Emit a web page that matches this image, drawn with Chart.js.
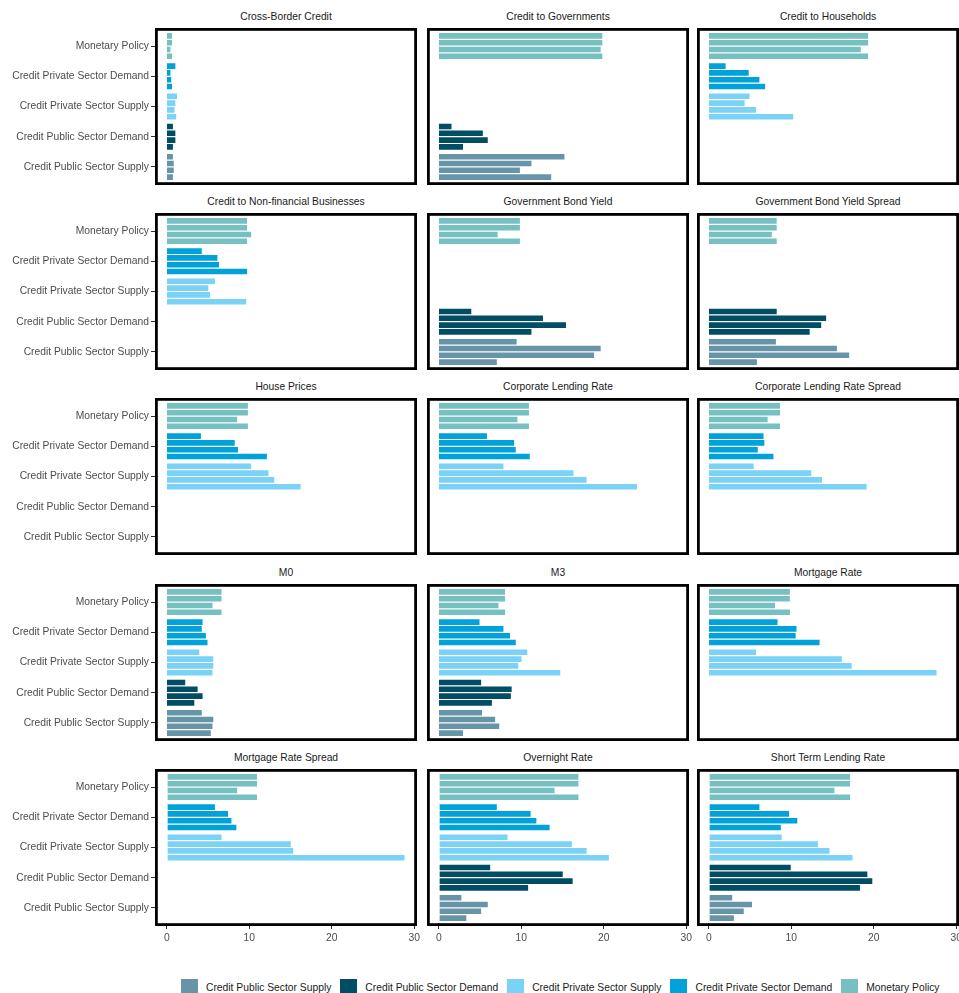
<!DOCTYPE html>
<html>
<head>
<meta charset="utf-8">
<script src="https://cdn.jsdelivr.net/npm/chart.js@4.4.1/dist/chart.umd.min.js"></script>
<style>
body { margin: 0; background: #fff; font-family: "Liberation Sans", Arial, sans-serif; }
#wrap { position: relative; width: 959px; height: 993px; overflow: hidden; }
canvas { position: absolute; }
.title { position: absolute; font-size: 10.3px; color: #1a1a1a; text-align: center; white-space: nowrap; }
#legend { position: absolute; left: 180px; top: 978px; display: flex; font-size: 10.3px; color: #1a1a1a; white-space: nowrap; }
#legend .item { display: flex; align-items: center; margin-right: 8px; flex-shrink: 0; }
#legend .key { width: 19px; height: 19px; box-sizing: border-box; border: 1px solid #fff; margin-right: 7px; }
</style>
</head>
<body>
<div id="wrap"></div>
<script>
// categories top to bottom, colours per category
const categories = ["Monetary Policy", "Credit Private Sector Demand", "Credit Private Sector Supply", "Credit Public Sector Demand", "Credit Public Sector Supply"];
const colours = ["#76c0c1", "#00a2d9", "#7ad2f6", "#014d64", "#6794a7"];
const legendOrder = [4, 3, 2, 1, 0];
const xTicks = [0, 10, 20, 30];

// one row per category, 4 bars each (top to bottom)
const crossBorderCredit = [[0.7,0.7,0.5,0.7],[1.1,0.5,0.6,0.7],[1.3,1.1,1.0,1.2],[0.8,1.1,1.1,0.8],[0.8,0.9,0.9,0.8]];
const creditGovernments = [[19.9,19.9,19.7,19.9],[null,null,null,null],[null,null,null,null],[1.6,5.4,6.0,3.0],[15.3,11.3,9.9,13.7]];
const creditHouseholds = [[19.4,19.4,18.5,19.4],[2.1,4.9,6.2,6.9],[5.0,4.4,5.8,10.3],[null,null,null,null],[null,null,null,null]];
const creditBusinesses = [[9.8,9.8,10.3,9.8],[4.3,6.2,6.4,9.8],[5.9,5.1,5.3,9.7],[null,null,null,null],[null,null,null,null]];
const govBondYield = [[9.9,9.9,7.2,9.9],[null,null,null,null],[null,null,null,null],[4.0,12.7,15.5,11.3],[9.5,19.7,18.9,7.1]];
const govBondSpread = [[8.3,8.3,7.7,8.3],[null,null,null,null],[null,null,null,null],[8.3,14.3,13.7,12.3],[8.2,15.6,17.1,5.9]];
const housePrices = [[9.9,9.9,8.6,9.9],[4.2,8.3,8.7,12.2],[10.3,12.4,13.1,16.3],[null,null,null,null],[null,null,null,null]];
const corpLending = [[11.0,11.0,9.6,11.0],[5.9,9.2,9.4,11.1],[7.9,16.4,18.0,24.1],[null,null,null,null],[null,null,null,null]];
const corpSpread = [[8.7,8.7,7.2,8.7],[6.7,6.8,6.0,7.9],[5.5,12.5,13.8,19.2],[null,null,null,null],[null,null,null,null]];
const m0 = [[6.7,6.7,5.6,6.7],[4.4,4.3,4.8,5.0],[4.0,5.7,5.7,5.6],[2.3,3.8,4.4,3.4],[4.3,5.7,5.6,5.4]];
const m3 = [[8.1,8.1,7.3,8.1],[5.0,7.9,8.7,9.4],[10.8,10.1,9.7,14.8],[5.2,8.9,8.8,6.5],[5.3,6.9,7.4,3.0]];
const mortgageRate = [[9.9,9.9,8.1,9.9],[8.4,10.7,10.6,13.5],[5.8,16.2,17.4,27.7],[null,null,null,null],[null,null,null,null]];
const mortgageSpread = [[11.0,11.0,8.6,11.0],[5.9,7.5,7.9,8.5],[6.7,15.1,15.4,28.9],[null,null,null,null],[null,null,null,null]];
const overnightRate = [[17.0,17.0,14.1,17.0],[7.1,11.2,11.9,13.5],[8.4,16.2,18.0,20.7],[6.3,15.1,16.3,10.9],[2.8,6.0,5.2,3.4]];
const shortTermLending = [[17.2,17.2,15.3,17.2],[6.2,9.8,10.8,8.8],[8.9,13.3,14.7,17.5],[10.0,19.3,19.9,18.4],[2.9,5.3,4.3,3.1]];

const panels = [
  ["Cross-Border Credit", crossBorderCredit], ["Credit to Governments", creditGovernments], ["Credit to Households", creditHouseholds],
  ["Credit to Non-financial Businesses", creditBusinesses], ["Government Bond Yield", govBondYield], ["Government Bond Yield Spread", govBondSpread],
  ["House Prices", housePrices], ["Corporate Lending Rate", corpLending], ["Corporate Lending Rate Spread", corpSpread],
  ["M0", m0], ["M3", m3], ["Mortgage Rate", mortgageRate],
  ["Mortgage Rate Spread", mortgageSpread], ["Overnight Rate", overnightRate], ["Short Term Lending Rate", shortTermLending]
];

const colLeft = [155, 427, 697];
const colWidth = 262;
const rowTop = [28, 213, 398, 584, 769];
const panelH = 157;
const tickFont = { size: 10.3, family: 'Liberation Sans' };

// thick black frame round each panel (ggplot panel.border)
const panelBorder = {
  id: 'panelBorder',
  afterDraw(chart) {
    const a = chart.chartArea, ctx = chart.ctx;
    ctx.save();
    ctx.strokeStyle = '#000';
    ctx.lineWidth = 2.8;
    ctx.strokeRect(a.left + 1.4, a.top - 3 + 1.4, a.right - a.left - 2.8, a.bottom - a.top + 6 - 2.8);
    ctx.restore();
  }
};

const wrap = document.getElementById('wrap');

panels.forEach((p, i) => {
  const col = i % 3, row = Math.floor(i / 3);
  const first = col === 0, bottom = row === 4;
  const extraR = bottom ? 8 : 0; // room for the "30" tick label
  const left = first ? 0 : colLeft[col];
  const width = (first ? colLeft[0] + colWidth : colWidth) + extraR;
  const height = panelH + (bottom ? 24 : 0);

  const t = document.createElement('div');
  t.className = 'title';
  t.style.left = colLeft[col] + 'px';
  t.style.width = colWidth + 'px';
  t.style.top = (rowTop[row] - 17) + 'px';
  t.textContent = p[0];
  wrap.appendChild(t);

  const cv = document.createElement('canvas');
  cv.width = width; cv.height = height;
  cv.style.left = left + 'px';
  cv.style.top = rowTop[row] + 'px';
  wrap.appendChild(cv);

  const datasets = [0, 1, 2, 3].map(j => ({
    data: p[1].map(r => r[j]),
    backgroundColor: colours,
    borderColor: 'rgba(255,255,255,0.75)',
    borderWidth: 0.6,
    categoryPercentage: 0.9,
    barPercentage: 1.0
  }));

  new Chart(cv, {
    type: 'bar',
    data: { labels: categories, datasets: datasets },
    plugins: [panelBorder],
    options: {
      indexAxis: 'y',
      responsive: false,
      animation: false,
      layout: { autoPadding: false, padding: { top: 3, bottom: bottom ? 0 : 3, left: 0, right: extraR } },
      plugins: { legend: { display: false }, tooltip: { enabled: false } },
      scales: {
        x: {
          type: 'linear', min: -1.445, max: 30.345,
          display: bottom,
          afterBuildTicks(s) { s.ticks = xTicks.map(v => ({ value: v })); },
          ticks: { color: '#4d4d4d', font: tickFont, padding: 3 },
          grid: { drawOnChartArea: false, tickLength: 6, color: '#333' },
          border: { display: false },
          afterFit(s) {
            if (bottom) s.height = height - panelH + 3;
            s.paddingLeft = 0; s.paddingRight = 0;
          }
        },
        y: {
          type: 'category',
          display: first,
          offset: true,
          ticks: { color: '#4d4d4d', font: tickFont, padding: 2 },
          grid: { drawOnChartArea: false, offset: false, tickLength: 4, color: '#333' },
          border: { display: false },
          afterFit(s) {
            if (first) s.width = colLeft[0];
            s.paddingTop = 0; s.paddingBottom = 0;
          }
        }
      }
    }
  });
});

// legend under the grid
const lg = document.createElement('div');
lg.id = 'legend';
legendOrder.forEach(k => {
  const it = document.createElement('div');
  it.className = 'item';
  const key = document.createElement('div');
  key.className = 'key';
  key.style.background = colours[k];
  const lab = document.createElement('span');
  lab.textContent = categories[k];
  it.appendChild(key); it.appendChild(lab);
  lg.appendChild(it);
});
wrap.appendChild(lg);
</script>
</body>
</html>
